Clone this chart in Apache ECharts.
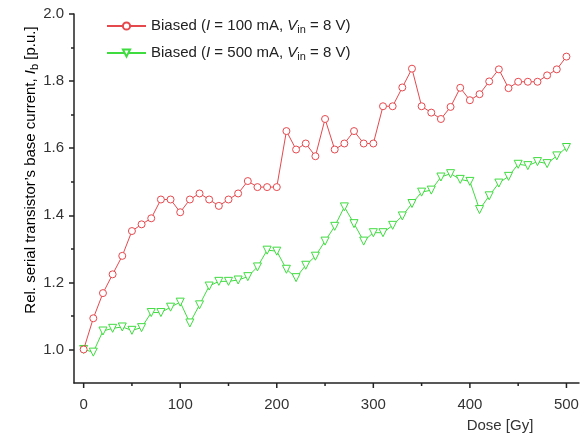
<!DOCTYPE html>
<html>
<head>
<meta charset="utf-8">
<script src="https://cdn.jsdelivr.net/npm/echarts@6/dist/echarts.min.js"></script>
<style>html,body{margin:0;padding:0;background:#fff}#c{width:584px;height:441px}</style>
</head>
<body>
<div id="c"></div>
<script>
const dose = [0,10,20,30,40,50,60,70,80,90,100,110,120,130,140,150,160,170,180,190,200,210,220,230,240,250,260,270,280,290,300,310,320,330,340,350,360,370,380,390,400,410,420,430,440,450,460,470,480,490,500];
const biased100 = [1.000,1.093,1.168,1.224,1.279,1.353,1.373,1.391,1.447,1.447,1.409,1.447,1.465,1.447,1.428,1.447,1.465,1.502,1.484,1.484,1.484,1.651,1.596,1.614,1.576,1.687,1.596,1.614,1.651,1.614,1.614,1.725,1.725,1.781,1.837,1.725,1.706,1.687,1.723,1.780,1.743,1.761,1.799,1.835,1.779,1.798,1.798,1.798,1.817,1.835,1.873];
const biased500 = [1.000,0.992,1.055,1.063,1.067,1.057,1.065,1.110,1.110,1.126,1.141,1.079,1.133,1.189,1.203,1.203,1.207,1.217,1.246,1.296,1.293,1.239,1.214,1.251,1.278,1.323,1.367,1.425,1.375,1.323,1.348,1.348,1.370,1.398,1.435,1.469,1.475,1.514,1.524,1.507,1.501,1.417,1.458,1.496,1.516,1.552,1.548,1.560,1.554,1.577,1.602];
const xMajorTicks = [0,100,200,300,400,500];
const xMinorTicks = [50,150,250,350,450];
const yMajorTicks = [1.0,1.2,1.4,1.6,1.8,2.0];
const yMinorTicks = [1.1,1.3,1.5,1.7,1.9];

const RED = '#e5484d', GREEN = '#3fdc3f';
const axisCol = '#222';
const FONT = 'Liberation Sans, Arial, sans-serif';
const labelStyle = {color:'#333', fontSize:15, fontFamily:FONT};
const rich = {
  n:{fontSize:15, color:'#222', fontFamily:FONT, lineHeight:18},
  i:{fontSize:15, color:'#222', fontStyle:'italic', fontFamily:FONT, lineHeight:18},
  sub:{fontSize:11, color:'#222', fontFamily:FONT, padding:[7,0,0,0], lineHeight:18}
};
const names = ['s100','s500'];
const legendText = {
  s100:'{n|Biased (}{i|I}{n| = 100 mA, }{i|V}{sub|in}{n| = 8 V)}',
  s500:'{n|Biased (}{i|I}{n| = 500 mA, }{i|V}{sub|in}{n| = 8 V)}'
};
const XMIN = -10, XMAX = 513, YMIN = 0.9, YMAX = 2.0;

function tickYAxis(vals, len){
  return {
    type:'value', gridIndex:0, min:YMIN, max:YMAX, position:'left',
    axisLine:{show:false, onZero:false},
    axisTick:{show:true, length:len, customValues:vals, lineStyle:{color:axisCol, width:1.5}},
    axisLabel:{show:false}, splitLine:{show:false}
  };
}
// x-axis tick marks, drawn at the axis through the library's scale
function xTickSeries(vals, len){
  return {
    type:'custom', coordinateSystem:'cartesian2d', xAxisIndex:0, yAxisIndex:0,
    silent:true, clip:false, z:5,
    data:vals.map(v=>[v, YMIN]),
    renderItem:function(params, api){
      const p = api.coord([api.value(0), api.value(1)]);
      return {type:'line', shape:{x1:p[0], y1:p[1], x2:p[0], y2:p[1]+len},
              style:{stroke:axisCol, lineWidth:1.5}};
    }
  };
}

const chart = echarts.init(document.getElementById('c'), null, {renderer:'canvas'});
chart.setOption({
  animation:false,
  grid:{left:74, right:5, top:14, bottom:58},
  legend:{
    orient:'vertical', left:101, top:12, itemGap:9, itemWidth:39, itemHeight:9,
    data:names, formatter:n=>legendText[n],
    textStyle:{rich:rich}
  },
  xAxis:{
    type:'value', min:XMIN, max:XMAX, position:'bottom',
    axisLine:{show:true, onZero:false, lineStyle:{color:axisCol, width:1.5}},
    axisTick:{show:false},
    axisLabel:Object.assign({customValues:xMajorTicks, margin:14}, labelStyle),
    splitLine:{show:false}
  },
  yAxis:[{
    type:'value', gridIndex:0, min:YMIN, max:YMAX, position:'left',
    axisLine:{show:true, onZero:false, lineStyle:{color:axisCol, width:1.5}},
    axisTick:{show:false},
    axisLabel:Object.assign({customValues:yMajorTicks, margin:10, formatter:v=>v.toFixed(1)}, labelStyle),
    splitLine:{show:false}
  },
  tickYAxis(yMajorTicks, 5),
  tickYAxis(yMinorTicks, 3)
  ],
  graphic:[{
    type:'text', x:31, y:170, rotation:Math.PI/2,
    style:{
      text:'{n|Rel. serial transistor\u2019s base current, }{i|I}{sub|b}{n| [p.u.]}',
      rich:rich, align:'center', verticalAlign:'middle'
    }
  },{
    type:'text', x:500, y:426,
    style:{text:'Dose [Gy]', fill:'#333', fontSize:15, fontFamily:FONT, align:'center', verticalAlign:'middle'}
  }],
  series:[{
    name:'s100', type:'line', xAxisIndex:0, yAxisIndex:0,
    data:dose.map((d,i)=>[d,biased100[i]]),
    symbol:'circle', symbolSize:7, showAllSymbol:true,
    lineStyle:{color:RED, width:1},
    itemStyle:{color:'#fff', borderColor:RED, borderWidth:1},
    z:3
  },{
    name:'s500', type:'line', xAxisIndex:0, yAxisIndex:0,
    data:dose.map((d,i)=>[d,biased500[i]]),
    symbol:'triangle', symbolRotate:180, symbolSize:8, showAllSymbol:true,
    lineStyle:{color:GREEN, width:1},
    itemStyle:{color:'#fff', borderColor:GREEN, borderWidth:1},
    z:2
  },
  xTickSeries(xMajorTicks, 5),
  xTickSeries(xMinorTicks, 3)
  ]
});
</script>
</body>
</html>
